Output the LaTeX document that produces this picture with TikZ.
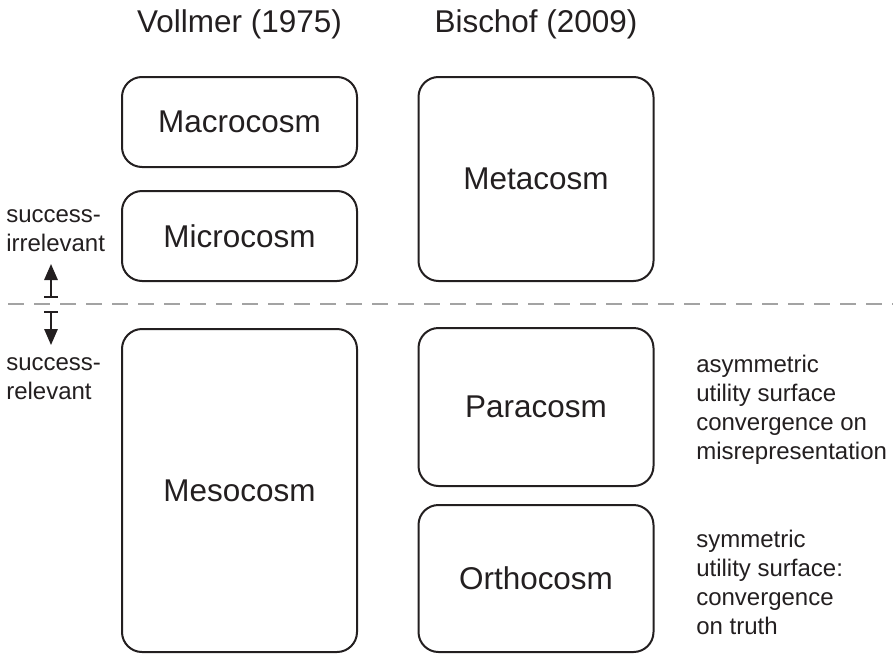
\documentclass[tikz,border=0pt]{standalone}
\usepackage{fontspec}
\setmainfont{Liberation Sans}
\usetikzlibrary{arrows.meta}
\definecolor{ink}{HTML}{231F20}
\definecolor{rule}{HTML}{A3A3A3}
\begin{document}
\begin{tikzpicture}[x=0.75pt,y=-0.75pt,
  cosm/.style={draw=ink, line width=1.5pt, rounded corners=15pt, inner sep=0pt,
    minimum width=176.25pt, text=ink, font=\fontsize{23.6}{28}\selectfont},
  head/.style={text=ink, font=\fontsize{23.6}{28}\selectfont},
  note/.style={text=ink, font=\fontsize{18}{21.8}\selectfont, align=left, inner sep=0pt},
  divider/.style={draw=rule, line width=1.8pt, dash pattern=on 12pt off 7.5pt},
  regimearrow/.style={draw=ink, line width=1.5pt, {Bar[width=10pt]}-{Triangle[length=12pt,width=10pt]}}]
\useasboundingbox (0,0) rectangle (893,664);

% column headings
\node[head] (hv) at (239.5,24) {Vollmer (1975)};
\node[head] (hb) at (536,24) {Bischof (2009)};

% Vollmer's three cosms
\node[cosm, minimum height=67.5pt] (macro) at (239.5,122) {Macrocosm};
\node[cosm, minimum height=67.5pt] (micro) at (239.5,236) {Microcosm};
\node[cosm, minimum height=242.25pt] (meso) at (239.5,490.5) {Mesocosm};

% Bischof's three cosms
\node[cosm, minimum height=153pt] (meta) at (536,179) {Metacosm};
\node[cosm, minimum height=118.5pt] (para) at (536,407) {Paracosm};
\node[cosm, minimum height=110.25pt] (ortho) at (536,578.5) {Orthocosm};

% boundary between the two regimes
\coordinate (dl) at (8,304);
\coordinate (dr) at (893,304);
\draw[divider] (dl) -- (dr);

% regime labels and arrows
\node[note, anchor=north west] (irr) at (6,209) {success-\\irrelevant};
\node[note, anchor=north west] (rel) at (6,357) {success-\\relevant};
\coordinate (upTail) at (51,298);
\coordinate (upTip) at (51,264);
\coordinate (dnTail) at (51,311);
\coordinate (dnTip) at (51,345);
\draw[regimearrow] (upTail) -- (upTip);
\draw[regimearrow] (dnTail) -- (dnTip);

% descriptions of Bischof's lower cosms
\node[note, anchor=north west] (asym) at (696,355) {asymmetric\\utility surface\\convergence on\\misrepresentation};
\node[note, anchor=north west] (sym) at (696,530) {symmetric\\utility surface:\\convergence\\on truth};
\end{tikzpicture}
\end{document}
